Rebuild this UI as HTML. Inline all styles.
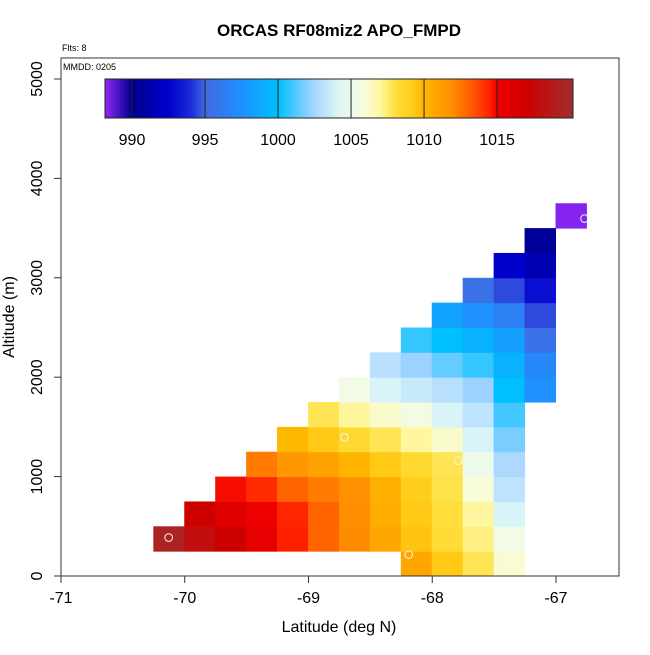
<!DOCTYPE html>
<html><head><meta charset="utf-8"><style>
body{margin:0;background:#fff;}
svg text{font-family:"Liberation Sans",Arial,sans-serif;}
</style></head><body>
<svg id="chart" width="650" height="650" xmlns="http://www.w3.org/2000/svg">
<text x="339" y="36" text-anchor="middle" font-size="17" font-weight="bold">ORCAS RF08miz2 APO_FMPD</text>
<text x="62" y="51" font-size="9">Flts: 8</text>
<g id="cells"></g>
<g id="pts"></g>
<rect x="61" y="58" width="558" height="518" fill="none" stroke="#333" stroke-width="1"/>
<text x="63" y="70" font-size="9">MMDD: 0205</text>
<g id="cbar"></g>
<g id="axes"></g>
<text x="339" y="632" text-anchor="middle" font-size="16">Latitude (deg N)</text>
<text transform="translate(14,317) rotate(-90)" text-anchor="middle" font-size="16">Altitude (m)</text>
</svg>
<script>
// data: rows of altitude bins (250 m), each entry [columnIndex, value]; column lon = -70.25 + 0.25*col
const binLon0 = -70.25;
const binLonStep = 0.25;
const binAltStep = 250;
const row0 = [[8,1010.8],[9,1009.3],[10,1007.8],[11,1006.1]];
const row1 = [[0,1019.5],[1,1018],[2,1017],[3,1015.5],[4,1014.5],[5,1013],[6,1012],[7,1010.8],[8,1009.5],[9,1008.3],[10,1007.3],[11,1005.3]];
const row2 = [[1,1017],[2,1016],[3,1015.2],[4,1014.4],[5,1013],[6,1011.9],[7,1010.5],[8,1009.3],[9,1008.2],[10,1007],[11,1004]];
const row3 = [[2,1014.8],[3,1014.3],[4,1013],[5,1012.4],[6,1011.8],[7,1010.4],[8,1009.1],[9,1007.9],[10,1006],[11,1003.2]];
const row4 = [[3,1012.4],[4,1011.5],[5,1011],[6,1010.2],[7,1009.3],[8,1008.5],[9,1007.8],[10,1005],[11,1002.7]];
const row5 = [[4,1010],[5,1009.3],[6,1008.5],[7,1007.8],[8,1007],[9,1006.2],[10,1004],[11,1001.8]];
const row6 = [[5,1007.8],[6,1007],[7,1006.2],[8,1005.5],[9,1004],[10,1003.2],[11,1001]];
const row7 = [[6,1005.3],[7,1004],[8,1003.5],[9,1003],[10,1002.3],[11,1000],[12,997.5]];
const row8 = [[7,1003],[8,1002.3],[9,1001.5],[10,1000.8],[11,999.3],[12,997]];
const row9 = [[8,1000.8],[9,1000],[10,999.3],[11,998.3],[12,995.5]];
const row10 = [[9,998.5],[10,997.5],[11,996.5],[12,994.5]];
const row11 = [[10,995.5],[11,994.5],[12,993]];
const row12 = [[11,992.5],[12,991.5]];
const row13 = [[12,990.5]];
const row14 = [[13,988.2]];
const rows = [row0,row1,row2,row3,row4,row5,row6,row7,row8,row9,row10,row11,row12,row13,row14];
const pointLon = [-70.13,-68.71,-68.19,-67.79,-67.47,-66.77];
const pointAlt = [387,1395,215,1160,161,3596];
const xTicks = [-71,-70,-69,-68,-67];
const yTicks = [0,1000,2000,3000,4000,5000];
const cbTicks = [990,995,1000,1005,1010,1015];
const cbMin = 988.15, cbMax = 1020.2;
const stopVals = [988.3,990,992.5,994,995,997.5,1000,1002.5,1004,1005,1006,1007,1008,1009,1010,1012,1013.5,1014.5,1015,1017,1020];
const stopCols = ["#8424ee","#00008b","#0000cd","#1a2ad8","#4169e1","#1e90ff","#00bfff","#a8d4ff","#d8f4f8","#eefaec","#f8fcd8","#fff7a0","#ffe040","#ffd020","#ffb800","#ff8c00","#ff5000","#ff2000","#f00000","#cd0000","#a52a2a"];

const NS="http://www.w3.org/2000/svg";
const X = lon => 61 + (lon + 71) * 123.75;
const Y = alt => 576 - alt * 0.0994;
const CX = v => 105 + (v - cbMin) / (cbMax - cbMin) * 468;
function hex(c){return [1,3,5].map(i=>parseInt(c.substr(i,2),16));}
function color(v){
  if(v<=stopVals[0]) return stopCols[0];
  for(let i=1;i<stopVals.length;i++){
    if(v<=stopVals[i]){
      const t=(v-stopVals[i-1])/(stopVals[i]-stopVals[i-1]);
      const a=hex(stopCols[i-1]),b=hex(stopCols[i]);
      return "rgb("+a.map((x,k)=>Math.round(x+(b[k]-x)*t)).join(",")+")";
    }
  }
  return stopCols[stopCols.length-1];
}
function mk(tag,attrs,parent){const e=document.createElementNS(NS,tag);for(const k in attrs)e.setAttribute(k,attrs[k]);parent.appendChild(e);return e;}

const cg=document.getElementById('cells');
rows.forEach((row,r)=>{
  row.forEach(([c,v])=>{
    const l=binLon0+binLonStep*c;
    const x0=X(l),x1=X(l+binLonStep),y0=Y((r+1)*binAltStep),y1=Y(r*binAltStep);
    const e=mk('rect',{x:x0-0.5,y:y0,width:x1-x0+0.5,height:y1-y0+0.5,fill:color(v)},cg);
    
    
  });
});
const pg=document.getElementById('pts');
pointLon.forEach((lon,i)=>{
  const e=mk('circle',{cx:X(lon),cy:Y(pointAlt[i]),r:3.8,fill:'none',stroke:'#f4f4f4','stroke-width':1},pg);
  
  
});

const cb=document.getElementById('cbar');
for(let i=0;i<468;i++){
  const v=cbMin+(i+0.5)/468*(cbMax-cbMin);
  mk('rect',{x:105+i,y:79,width:1.2,height:39,fill:color(v)},cb);
}
mk('rect',{x:105,y:79,width:468,height:39,fill:'none',stroke:'#222','stroke-width':1},cb);
cbTicks.forEach(t=>{
  mk('line',{x1:CX(t),x2:CX(t),y1:79,y2:118,stroke:'#222','stroke-width':1},cb);
  const e=mk('text',{x:CX(t),y:145,'text-anchor':'middle','font-size':16},cb);
  e.textContent=t;
  
  
});

const ax=document.getElementById('axes');
xTicks.forEach(t=>{
  mk('line',{x1:X(t),x2:X(t),y1:576,y2:583,stroke:'#333'},ax);
  const e=mk('text',{x:X(t),y:603,'text-anchor':'middle','font-size':16},ax);
  e.textContent=t;
  
  
});
yTicks.forEach(t=>{
  mk('line',{x1:54,x2:61,y1:Y(t),y2:Y(t),stroke:'#333'},ax);
  const e=mk('text',{transform:`translate(42,${Y(t)}) rotate(-90)`,'text-anchor':'middle','font-size':16},ax);
  e.textContent=t;
  
  
});
</script>
</body></html>
